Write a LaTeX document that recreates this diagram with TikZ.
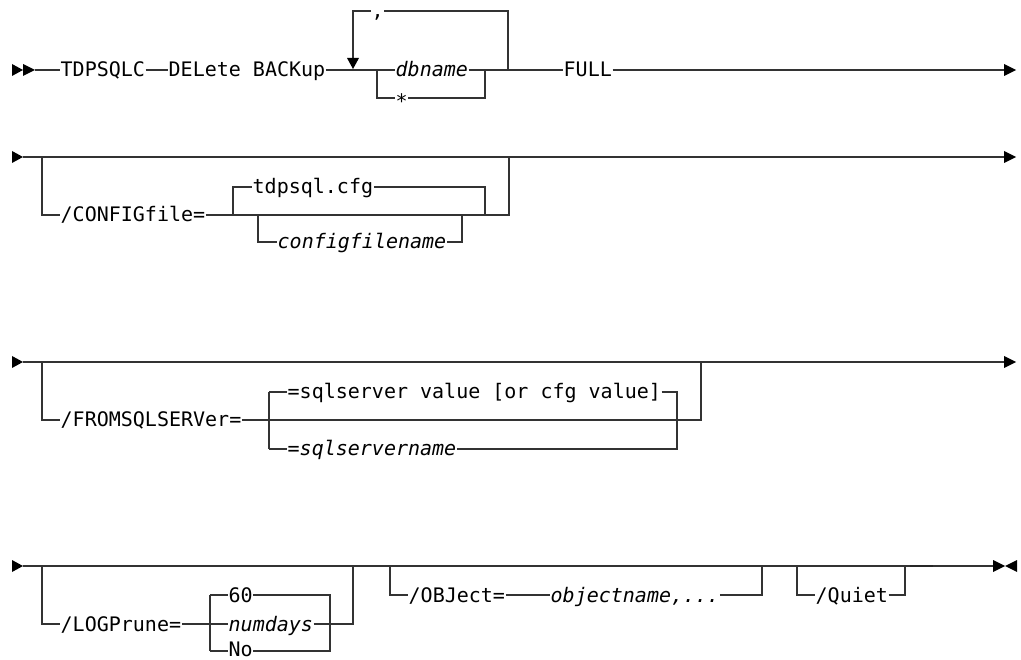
\documentclass[tikz,border=0pt]{standalone}
\usepackage{fontspec}
\newfontfamily\dm{DejaVu Sans Mono}
\tikzset{
  rr/.style={line width=1.3pt, draw=black!80},
  lbl/.style={anchor=base west, inner xsep=0.5pt, inner ysep=0pt, yshift=-7pt, font={\dm\fontsize{20}{24}\selectfont}},
  itl/.style={lbl, font={\dm\fontsize{20}{24}\selectfont\itshape}},
  tip/.style={fill=black}
}
\begin{document}
\begin{tikzpicture}[x=1pt,y=-1pt]
\useasboundingbox (0,0) rectangle (1021,660);
% row coordinates
\coordinate (r1) at (0,70);
\coordinate (r1b) at (0,98);
\coordinate (r1t) at (0,11);
\coordinate (r2) at (0,157);
\coordinate (r2s) at (0,215);
\coordinate (r2t) at (0,187);
\coordinate (r2b) at (0,242);
\coordinate (r3) at (0,362);
\coordinate (r3s) at (0,420);
\coordinate (r3t) at (0,392);
\coordinate (r3b) at (0,449);
\coordinate (r4) at (0,566);
\coordinate (r4s) at (0,624);
\coordinate (r4t) at (0,595);
\coordinate (r4b) at (0,651);

% ---------- Row 1 ----------
\node[lbl] (tdp) at (60,70) {TDPSQLC};
\node[lbl] (del) at (168,70) {DELete BACKup};
\node[itl] (db) at (395,70) {dbname};
\node[lbl, yshift=-4pt] (ast) at (395,98) {*};
\node[lbl] (comma) at (371,11) {,};
\node[lbl] (full) at (563,70) {FULL};
\coordinate (s1) at (35,70);
\coordinate (e1) at (1004,70);
\fill[tip] (12,64) -- (23,70) -- (12,76) -- cycle;
\fill[tip] (23,64) -- (35,70) -- (23,76) -- cycle;
\draw[rr] (s1) -- (tdp.west|-r1);
\draw[rr] (tdp.east|-r1) -- (del.west|-r1);
\draw[rr] (del.east|-r1) -- (db.west|-r1);
\draw[rr] (db.east|-r1) -- (full.west|-r1);
\draw[rr] (full.east|-r1) -- (e1);
\fill[tip] (1004,64) -- (1016,70) -- (1004,76) -- cycle;
\draw[rr] (377,70) -- (377,98) -- (ast.west|-r1b);
\draw[rr] (ast.east|-r1b) -- (485,98) -- (485,70);
\draw[rr] (353,58) -- (353,11) -- (comma.west|-r1t);
\draw[rr] (comma.east|-r1t) -- (508,11) -- (508,70);
\fill[tip] (347,58) -- (359,58) -- (353,69) -- cycle;

% ---------- Row 2 ----------
\fill[tip] (12,151) -- (23,157) -- (12,163) -- cycle;
\draw[rr] (23,157) -- (1004,157);
\fill[tip] (1004,151) -- (1016,157) -- (1004,163) -- cycle;
\node[lbl] (cfg) at (60,215) {/CONFIGfile=};
\node[lbl] (tdpc) at (252,187) {tdpsql.cfg};
\node[itl] (cfn) at (277,242) {configfilename};
\draw[rr] (42,157) -- (42,215) -- (cfg.west|-r2s);
\draw[rr] (cfg.east|-r2s) -- (509,215) -- (509,157);
\draw[rr] (233,215) -- (233,187) -- (tdpc.west|-r2t);
\draw[rr] (tdpc.east|-r2t) -- (485,187) -- (485,215);
\draw[rr] (258,215) -- (258,242) -- (cfn.west|-r2b);
\draw[rr] (cfn.east|-r2b) -- (462,242) -- (462,215);

% ---------- Row 3 ----------
\fill[tip] (12,356) -- (23,362) -- (12,368) -- cycle;
\draw[rr] (23,362) -- (1004,362);
\fill[tip] (1004,356) -- (1016,362) -- (1004,368) -- cycle;
\node[lbl] (fsq) at (60,420) {/FROMSQLSERVer=};
\node[lbl] (sqv) at (287,392) {=sqlserver value [or cfg value]};
\node[lbl] (sqn) at (287,449) {=\textit{sqlservername}};
\draw[rr] (42,362) -- (42,420) -- (fsq.west|-r3s);
\draw[rr] (fsq.east|-r3s) -- (701,420) -- (701,362);
\draw[rr] (269,392) -- (269,449);
\draw[rr] (269,392) -- (sqv.west|-r3t);
\draw[rr] (sqv.east|-r3t) -- (677,392) -- (677,449) -- (sqn.east|-r3b);
\draw[rr] (269,449) -- (sqn.west|-r3b);

% ---------- Row 4 ----------
\fill[tip] (12,560) -- (23,566) -- (12,572) -- cycle;
\draw[rr] (23,566) -- (993,566);
\draw[line width=2.2pt, black!85] (910,566) -- (933,566);
\fill[tip] (993,560) -- (1005,566) -- (993,572) -- cycle;
\fill[tip] (1017,560) -- (1005,566) -- (1017,572) -- cycle;
\node[lbl] (logp) at (60,624) {/LOGPrune=};
\node[lbl] (sixty) at (228,595) {60};
\node[itl] (nd) at (228,624) {numdays};
\node[lbl, yshift=2pt] (no) at (228,651) {No};
\draw[rr] (42,566) -- (42,624) -- (logp.west|-r4s);
\draw[rr] (logp.east|-r4s) -- (nd.west|-r4s);
\draw[rr] (nd.east|-r4s) -- (353,624) -- (353,566);
\draw[rr] (210,595) -- (210,651);
\draw[rr] (210,595) -- (sixty.west|-r4t);
\draw[rr] (sixty.east|-r4t) -- (330,595) -- (330,651) -- (no.east|-r4b);
\draw[rr] (210,651) -- (no.west|-r4b);
\node[lbl] (obj) at (408,595) {/OBJect=};
\node[itl] (objn) at (550,595) {objectname,...};
\draw[rr] (390,566) -- (390,595) -- (obj.west|-r4t);
\draw[rr] (obj.east|-r4t) -- (objn.west|-r4t);
\draw[rr] (objn.east|-r4t) -- (762,595) -- (762,566);
\node[lbl] (qt) at (815,595) {/Quiet};
\draw[rr] (797,566) -- (797,595) -- (qt.west|-r4t);
\draw[rr] (qt.east|-r4t) -- (905,595) -- (905,566);
\end{tikzpicture}
\end{document}
